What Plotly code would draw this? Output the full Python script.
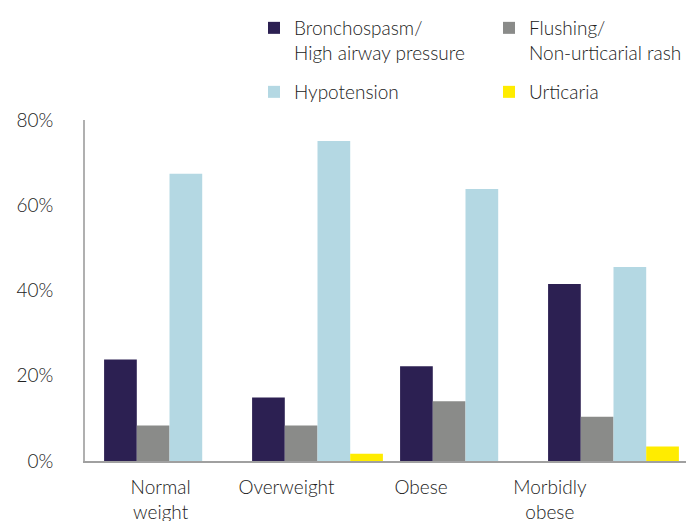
"""Reactions by BMI group – grouped bar chart (Plotly)."""
import plotly.graph_objects as go

groups = [0, 1, 2, 3]
group_labels = ["Normal<br>weight", "Overweight", "Obese", "Morbidly<br>obese"]
label_pos = [-0.06, 0.79, 1.70, 2.57]

y_ticks = [0, 20, 40, 60, 80]
y_tick_labels = ["0%", "20%", "40%", "60%", "80%"]

bronchospasm = [23.8, 14.9, 22.2, 41.5]
flushing = [8.3, 8.3, 14.0, 10.4]
hypotension = [67.4, 75.1, 63.8, 45.5]
urticaria = [0.0, 1.7, 0.0, 3.4]

series = [
    ("Bronchospasm/<br>High airway pressure", bronchospasm, "#2c2052", "legend"),
    ("Flushing/<br>Non-urticarial rash", flushing, "#8a8b89", "legend"),
    ("Hypotension", hypotension, "#b4d8e3", "legend2"),
    ("Urticaria", urticaria, "#ffec00", "legend2"),
]

FONT = "Lato, 'Noto Sans', sans-serif"
W, H = 686, 513  # page body has an 8px margin

fig = go.Figure()
for name, vals, color, leg in series:
    fig.add_trace(go.Bar(x=groups, y=vals, name=name, marker_color=color,
                         marker_line_width=0, legend=leg))

leg_common = dict(orientation="h", xref="container", yref="container",
                  yanchor="top", xanchor="left", entrywidth=190,
                  entrywidthmode="pixels", valign="top", traceorder="normal",
                  font=dict(size=19, color="#222", weight=300), itemclick=False,
                  bgcolor="rgba(0,0,0,0)")

fig.update_layout(
    width=W, height=H,
    margin=dict(l=77, r=0, t=112, b=60),
    barmode="group", bargap=0.116, bargroupgap=0,
    plot_bgcolor="white", paper_bgcolor="white",
    font=dict(family=FONT, size=19, color="#222", weight=300),
    legend=dict(x=246 / W, y=1 - 1 / H, **leg_common),
    legend2=dict(x=246 / W, y=1 - 65 / H, **leg_common),
    xaxis=dict(range=[-0.571, 3.544], tickvals=label_pos, ticktext=group_labels,
               showline=True, linecolor="#a0a0a0", linewidth=2, ticks="",
               showgrid=False, zeroline=False, ticklabelstandoff=8,
               automargin=False),
    yaxis=dict(range=[0, 80], tickvals=y_ticks, ticktext=y_tick_labels,
               showline=True, linecolor="#b0b0b0", linewidth=1.5, ticks="",
               showgrid=False, zeroline=False, ticklabelstandoff=26,
               automargin=False),
)

fig.write_html("out.html")
